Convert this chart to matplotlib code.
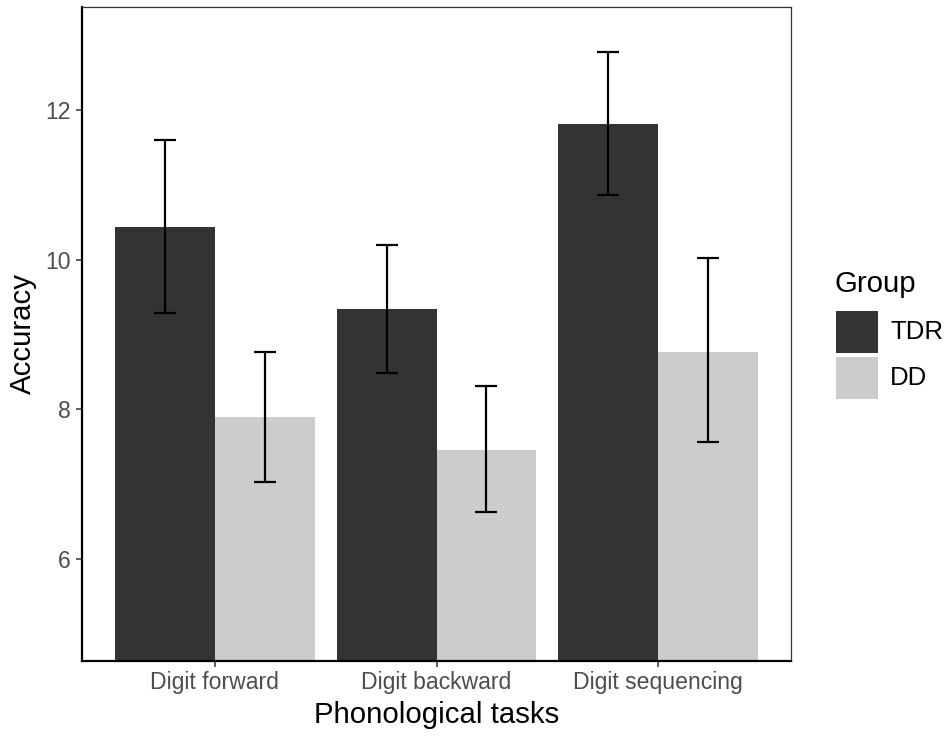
import matplotlib
matplotlib.use("Agg")
import matplotlib.pyplot as plt
from matplotlib.patches import Rectangle
import numpy as np

plt.rcParams['font.family'] = ['Liberation Sans', 'DejaVu Sans']

tasks = ["Digit forward", "Digit backward", "Digit sequencing"]
groups = ["TDR", "DD"]
tdr_mean = [10.43, 9.34, 11.82]
tdr_lo = [9.28, 8.48, 10.87]
tdr_hi = [11.60, 10.19, 12.78]
dd_mean = [7.90, 7.45, 8.77]
dd_lo = [7.02, 6.62, 7.56]
dd_hi = [8.76, 8.31, 10.02]
yticks = [6, 8, 10, 12]

colors = ["#333333", "#CCCCCC"]

fig = plt.figure(figsize=(9.52, 7.37), dpi=100)
ax = fig.add_axes([82/952, 1-661/737, (791-82)/952, (661-7)/737])

x = np.arange(1, len(tasks)+1)
w = 0.45
series = [(tdr_mean, tdr_lo, tdr_hi), (dd_mean, dd_lo, dd_hi)]
for i, (m, lo, hi) in enumerate(series):
    xpos = x + (i - 0.5) * w
    ax.bar(xpos, m, width=w, color=colors[i], edgecolor='none', zorder=1)
    m = np.array(m); lo = np.array(lo); hi = np.array(hi)
    ax.errorbar(xpos, m, yerr=[m - lo, hi - m], fmt='none', ecolor='black',
                elinewidth=1.6, capsize=7.9, capthick=1.6, zorder=3)

ax.set_xlim(0.4, 3.6)
ax.set_ylim(4.63, 13.38)
ax.set_xticks(x)
ax.set_xticklabels(tasks)
ax.set_yticks(yticks)
ax.set_yticklabels([str(t) for t in yticks])
ax.tick_params(axis='both', colors='#333333', labelsize=16.6, length=4.5, width=1.1)
ax.tick_params(axis='both', labelcolor='#4D4D4D')
ax.tick_params(axis='x', pad=3)
ax.tick_params(axis='y', pad=3.5)
for s in ['top', 'right']:
    ax.spines[s].set_linewidth(0.9)
    ax.spines[s].set_color('#333333')
for s in ['left', 'bottom']:
    ax.spines[s].set_linewidth(1.6)
    ax.spines[s].set_color('black')
ax.set_xlabel("Phonological tasks", fontsize=21.2, color='black', labelpad=5)
ax.set_ylabel("Accuracy", fontsize=21.2, color='black', labelpad=6)

# legend
fig.text(835/952, 1-284/737, "Group", fontsize=21.2, va='center', ha='left')
key_y = [311, 357]
for i, g in enumerate(groups):
    fig.patches.append(Rectangle((836/952, 1-(key_y[i]+42)/737), 42/952, 42/737,
                                 transform=fig.transFigure, facecolor=colors[i],
                                 edgecolor='none'))
    fig.text(890/952, 1-(key_y[i]+21)/737, g, fontsize=18.5, va='center', ha='left')

fig.savefig("out.png", dpi=100)
